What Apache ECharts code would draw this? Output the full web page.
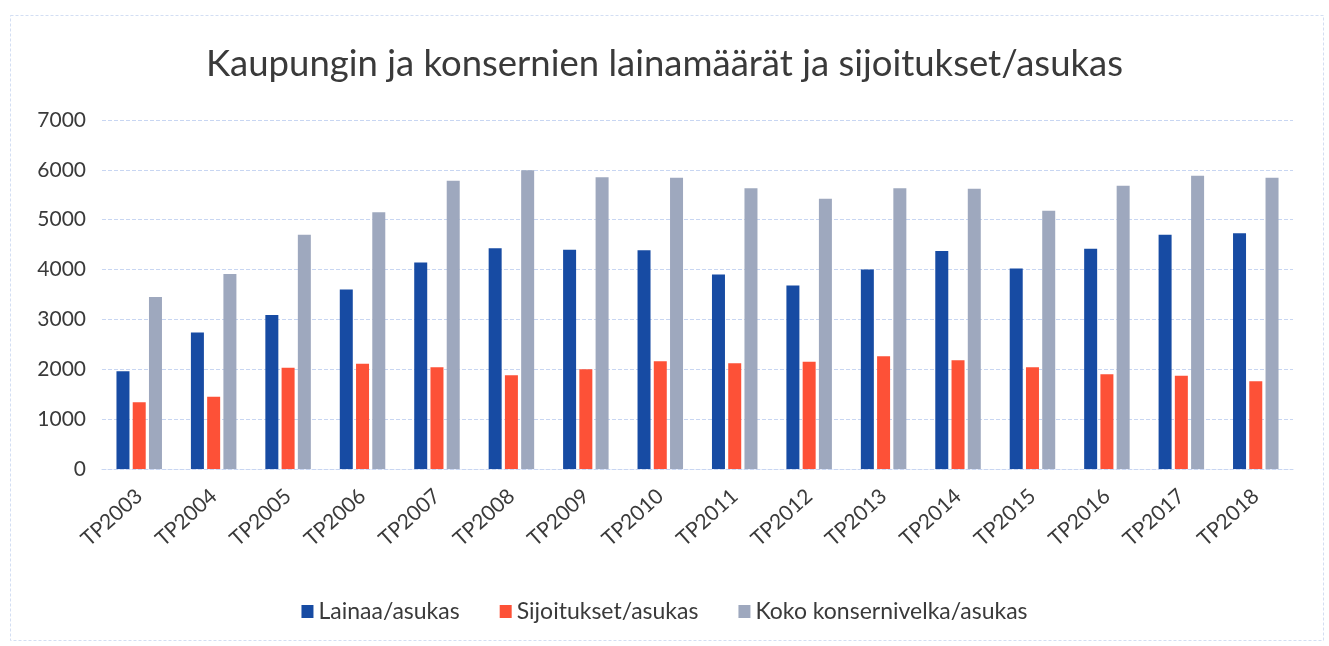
<!DOCTYPE html>
<html>
<head>
<meta charset="utf-8">
<script src="https://cdn.jsdelivr.net/npm/echarts@6/dist/echarts.min.js"></script>
<style>html,body{margin:0;padding:0;background:#fff;}#c{width:1329px;height:646px;}</style>
</head>
<body>
<div id="c"></div>
<script>
const categories = ['TP2003','TP2004','TP2005','TP2006','TP2007','TP2008','TP2009','TP2010','TP2011','TP2012','TP2013','TP2014','TP2015','TP2016','TP2017','TP2018'];
const lainaa = [1960, 2740, 3090, 3600, 4140, 4430, 4400, 4390, 3900, 3680, 4000, 4370, 4020, 4420, 4700, 4730];
const sijoitukset = [1340, 1450, 2030, 2110, 2040, 1880, 2000, 2160, 2120, 2150, 2260, 2180, 2040, 1900, 1870, 1760];
const koko = [3450, 3910, 4700, 5150, 5780, 5990, 5850, 5840, 5630, 5420, 5630, 5620, 5180, 5680, 5880, 5840];
const seriesNames = ['Lainaa/asukas', 'Sijoitukset/asukas', 'Koko konsernivelka/asukas'];
const yTicks = [0, 1000, 2000, 3000, 4000, 5000, 6000, 7000];

const chart = echarts.init(document.getElementById('c'), null, {renderer: 'canvas'});
const font = 'Lato, "Open Sans", sans-serif';
const barBase = {type: 'bar', barWidth: 13, barGap: '25%'};
chart.setOption({
  backgroundColor: '#ffffff',
  animation: false,
  textStyle: {fontFamily: font},
  graphic: [{
    type: 'rect', left: 8, top: 13, shape: {width: 1313, height: 625},
    style: {fill: 'none', stroke: '#d3def3', lineWidth: 1, lineDash: [3, 2]}, silent: true
  }],
  title: {
    text: 'Kaupungin ja konsernien lainamäärät ja sijoitukset/asukas',
    left: 'center', top: 41,
    textStyle: {fontFamily: font, fontSize: 36.5, fontWeight: 'normal', color: '#3a3a3a'}
  },
  legend: {
    data: seriesNames, bottom: 18, left: 'center', itemWidth: 12, itemHeight: 13, itemGap: 40,
    icon: 'rect',
    textStyle: {fontFamily: font, fontSize: 23, color: '#3a3a3a'}
  },
  grid: {left: 102, right: 36, top: 120, bottom: 177, containLabel: false},
  xAxis: {
    type: 'category', data: categories,
    axisLine: {show: true, lineStyle: {color: '#c8d6f2', type: 'dashed'}},
    axisTick: {show: false},
    axisLabel: {rotate: 42, fontSize: 21, color: '#3a3a3a', fontFamily: font, margin: 24, interval: 0}
  },
  yAxis: {
    type: 'value', min: yTicks[0], max: yTicks[yTicks.length - 1], interval: 1000,
    axisLine: {show: false}, axisTick: {show: false},
    splitLine: {lineStyle: {color: '#c8d6f2', type: 'dashed', width: 1}},
    axisLabel: {fontSize: 21, color: '#3a3a3a', fontFamily: font, margin: 16, formatter: function (v) { return String(v); }}
  },
  series: [
    Object.assign({}, barBase, {name: seriesNames[0], data: lainaa, itemStyle: {color: '#174ba3'}}),
    Object.assign({}, barBase, {name: seriesNames[1], data: sijoitukset, itemStyle: {color: '#fd5137'}}),
    Object.assign({}, barBase, {name: seriesNames[2], data: koko, itemStyle: {color: '#9ea8be'}})
  ]
});
</script>
</body>
</html>
